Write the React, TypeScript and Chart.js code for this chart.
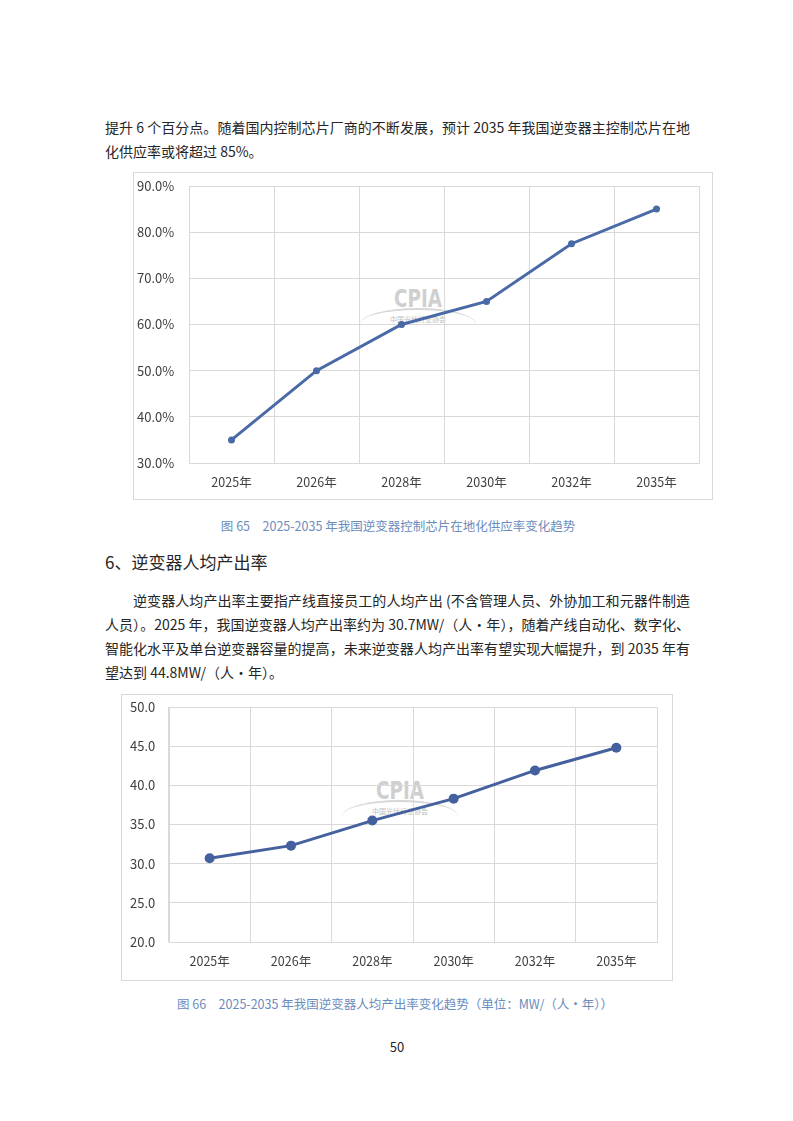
import React, { useEffect, useRef } from "react";
import { Chart, registerables } from "chart.js";

Chart.register(...registerables);

const categories = ["2025年", "2026年", "2028年", "2030年", "2032年", "2035年"];
const chipRate = [35.0, 50.0, 60.0, 65.0, 77.5, 85.0];
const outputRate = [30.7, 32.3, 35.5, 38.3, 41.9, 44.8];
const chipTicks = { min: 30, max: 90, step: 10 };
const outputTicks = { min: 20, max: 50, step: 5 };

const FONT = '"Noto Sans CJK SC", "Noto Sans", sans-serif';
const GRID = "#d9d9d9";

type Cfg = {
  data: number[];
  min: number;
  max: number;
  step: number;
  suffix: string;
  yWidth: number;
  padLeft: number;
  padTop: number;
  padRight: number;
  xHeight: number;
  color: string;
  radius: number;
};

function LineChart({ cfg, style }: { cfg: Cfg; style: React.CSSProperties }) {
  const ref = useRef<HTMLCanvasElement | null>(null);
  useEffect(() => {
    if (!ref.current) return;
    const chart = new Chart(ref.current, {
      type: "line",
      data: {
        labels: categories,
        datasets: [
          {
            data: cfg.data,
            borderColor: cfg.color,
            backgroundColor: cfg.color,
            borderWidth: 3,
            pointRadius: cfg.radius,
            pointHoverRadius: cfg.radius,
            pointBorderWidth: 0,
            tension: 0,
          },
        ],
      },
      options: {
        animation: false,
        responsive: false,
        maintainAspectRatio: false,
        layout: { autoPadding: false, padding: { top: cfg.padTop, right: cfg.padRight, bottom: 0, left: cfg.padLeft } },
        plugins: { legend: { display: false }, tooltip: { enabled: false } },
        scales: {
          x: {
            offset: true,
            grid: { color: GRID, offset: true, drawTicks: false, lineWidth: 1 },
            border: { color: GRID },
            ticks: { color: "#404040", font: { family: FONT, size: 12.5 }, padding: 12 },
            afterFit: (s: any) => {
              s.height = cfg.xHeight;
            },
          },
          y: {
            min: cfg.min,
            max: cfg.max,
            grid: { color: GRID, drawTicks: false, lineWidth: 1 },
            border: { color: GRID },
            ticks: {
              stepSize: cfg.step,
              color: "#404040",
              font: { family: FONT, size: 13 },
              padding: 0,
              crossAlign: "far",
              callback: (v: any) => Number(v).toFixed(1) + cfg.suffix,
            },
            afterFit: (s: any) => {
              s.width = cfg.yWidth;
            },
          },
        },
      },
    });
    return () => chart.destroy();
  }, [cfg]);
  return (
    <canvas
      ref={ref}
      width={style.width as number}
      height={style.height as number}
      style={{ position: "absolute", ...style }}
    />
  );
}

const chart1: Cfg = {
  data: chipRate,
  min: chipTicks.min,
  max: chipTicks.max,
  step: chipTicks.step,
  suffix: "%",
  yWidth: 52,
  padLeft: 3,
  padTop: 13,
  padRight: 13,
  xHeight: 36,
  color: "#4a69a7",
  radius: 3.5,
};

const chart2: Cfg = {
  data: outputRate,
  min: outputTicks.min,
  max: outputTicks.max,
  step: outputTicks.step,
  suffix: "",
  yWidth: 39,
  padLeft: 8,
  padTop: 12,
  padRight: 14,
  xHeight: 37,
  color: "#44609f",
  radius: 5,
};

const textBase: React.CSSProperties = {
  position: "absolute",
  fontFamily: FONT,
  fontSize: 14,
  lineHeight: "20px",
  color: "#262626",
  whiteSpace: "nowrap",
};

function Line({ top, left, width, text, justify }: { top: number; left: number; width?: number; text: string; justify?: boolean }) {
  return (
    <div
      style={{
        ...textBase,
        top: top - 10,
        left,
        width,
        textAlign: justify ? "justify" : "left",
        textAlignLast: justify ? "justify" : "left",
      }}
    >
      {text}
    </div>
  );
}

function Watermark({ cx, cy }: { cx: number; cy: number }) {
  return (
    <div style={{ position: "absolute", left: cx - 60, top: cy - 30, width: 120, height: 60, textAlign: "center", fontFamily: FONT }}>
      <div
        style={{
          fontSize: 24,
          fontWeight: 900,
          color: "#cfcfcf",
          lineHeight: "26px",
          fontFamily: '"DejaVu Sans Condensed", "DejaVu Sans", sans-serif',
          transform: "scaleX(0.85)",
        }}
      >
        CPIA
      </div>
      <div
        style={{
          position: "absolute",
          left: 2,
          top: 22,
          width: 116,
          height: 30,
          borderTop: "2px solid #d6d6d6",
          borderRadius: "50% 50% 0 0",
        }}
      />
      <div style={{ fontSize: 7, color: "#bdbdbd", lineHeight: "9px", marginTop: 3 }}>中国光伏行业协会</div>
    </div>
  );
}

export default function App() {
  return (
    <div style={{ position: "absolute", left: 0, top: 0, width: 793, height: 1121, background: "#fff", overflow: "hidden" }}>
      <Line top={127} left={105} width={585} justify text="提升 6 个百分点。随着国内控制芯片厂商的不断发展，预计 2035 年我国逆变器主控制芯片在地" />
      <Line top={151} left={105} text="化供应率或将超过 85%。" />

      <div style={{ position: "absolute", left: 133, top: 172, width: 578, height: 326, border: "1px solid #d9d9d9" }} />
      <Watermark cx={418} cy={316} />
      <LineChart cfg={chart1} style={{ left: 134, top: 173, width: 578, height: 326 }} />

      <div style={{ ...textBase, fontSize: 12.5, color: "#6a8cbd", top: 516, left: 133, width: 530, textAlign: "center" }}>
        图 65　2025-2035 年我国逆变器控制芯片在地化供应率变化趋势
      </div>

      <div style={{ ...textBase, fontSize: 17, lineHeight: "24px", top: 550, left: 105 }}>6、逆变器人均产出率</div>

      <Line top={600} left={133} width={557} justify text="逆变器人均产出率主要指产线直接员工的人均产出 (不含管理人员、外协加工和元器件制造" />
      <Line top={624} left={105} width={585} justify text="人员）。2025 年，我国逆变器人均产出率约为 30.7MW/（人·年），随着产线自动化、数字化、" />
      <Line top={648} left={105} width={585} justify text="智能化水平及单台逆变器容量的提高，未来逆变器人均产出率有望实现大幅提升，到 2035 年有" />
      <Line top={672} left={105} text="望达到 44.8MW/（人·年）。" />

      <div style={{ position: "absolute", left: 121, top: 694, width: 550, height: 285, border: "1px solid #d9d9d9" }} />
      <Watermark cx={400} cy={808} />
      <LineChart cfg={chart2} style={{ left: 122, top: 695, width: 549, height: 284 }} />

      <div style={{ ...textBase, fontSize: 12.5, color: "#6a8cbd", top: 994, left: 160, width: 470, textAlign: "center" }}>
        图 66　2025-2035 年我国逆变器人均产出率变化趋势（单位：MW/（人·年））
      </div>

      <div style={{ ...textBase, fontSize: 13, top: 1037, left: 380, width: 34, textAlign: "center" }}>50</div>
    </div>
  );
}
